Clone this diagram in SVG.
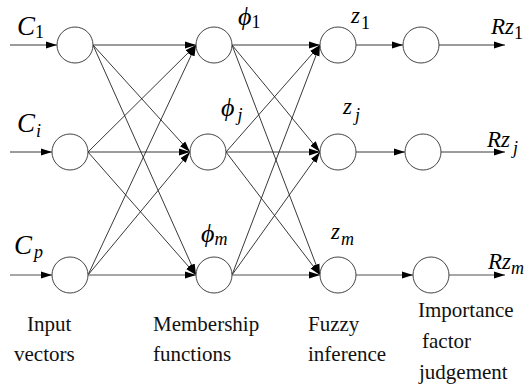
<svg xmlns="http://www.w3.org/2000/svg" width="532" height="392" viewBox="0 0 532 392">
<defs>
<marker id="ah" markerUnits="userSpaceOnUse" markerWidth="12" markerHeight="8" refX="11" refY="4" orient="auto">
<path d="M0,0.5 L11,4 L0,7.5 z" fill="#000"/>
</marker>
<style>
.n{fill:#fff;stroke:#444;stroke-width:1}
.c line{stroke:#222;stroke-width:0.9;fill:none;marker-end:url(#ah)}
.c line.g{stroke:#8a8a8a;stroke-width:1.4}
.lbl{font-style:italic;fill:#000}
.cap{font-size:21px;fill:#111}
</style>
</defs>
<rect width="532" height="392" fill="#fff"/>
<g id="connectors" class="c">
<line x1="10" y1="45" x2="57" y2="45"/>
<line x1="10" y1="152" x2="52" y2="152"/>
<line class="g" x1="10" y1="275" x2="52" y2="275"/>
<line x1="93" y1="45" x2="196" y2="45"/>
<line x1="93" y1="45" x2="190" y2="152"/>
<line x1="93" y1="45" x2="196" y2="275"/>
<line x1="88" y1="152" x2="196" y2="45"/>
<line x1="88" y1="152" x2="190" y2="152"/>
<line x1="88" y1="152" x2="196" y2="275"/>
<line x1="88" y1="275" x2="196" y2="45"/>
<line x1="88" y1="275" x2="190" y2="152"/>
<line class="g" x1="88" y1="275" x2="196" y2="275"/>
<line x1="232" y1="45" x2="320" y2="45"/>
<line x1="232" y1="45" x2="320" y2="152"/>
<line x1="232" y1="45" x2="320" y2="275"/>
<line x1="226" y1="152" x2="320" y2="45"/>
<line x1="226" y1="152" x2="320" y2="152"/>
<line x1="226" y1="152" x2="320" y2="275"/>
<line x1="232" y1="275" x2="320" y2="45"/>
<line x1="232" y1="275" x2="320" y2="152"/>
<line class="g" x1="232" y1="275" x2="320" y2="275"/>
<line x1="356" y1="45" x2="403" y2="45"/>
<line x1="356" y1="152" x2="405" y2="152"/>
<line class="g" x1="356" y1="275" x2="413" y2="275"/>
<line x1="439" y1="45" x2="505" y2="45"/>
<line x1="441" y1="152" x2="505" y2="152"/>
<line class="g" x1="449" y1="275" x2="505" y2="275"/>
</g>
<g id="input1"><circle class="n" cx="75" cy="45" r="18"/></g>
<g id="input2"><circle class="n" cx="70" cy="152" r="18"/></g>
<g id="input3"><circle class="n" cx="70" cy="275" r="18"/></g>
<g id="member1"><circle class="n" cx="214" cy="45" r="18"/></g>
<g id="member2"><circle class="n" cx="208" cy="152" r="18"/></g>
<g id="member3"><circle class="n" cx="214" cy="275" r="18"/></g>
<g id="fuzzy1"><circle class="n" cx="338" cy="45" r="18"/></g>
<g id="fuzzy2"><circle class="n" cx="338" cy="152" r="18"/></g>
<g id="fuzzy3"><circle class="n" cx="338" cy="275" r="18"/></g>
<g id="imp1"><circle class="n" cx="421" cy="45" r="18"/></g>
<g id="imp2"><circle class="n" cx="423" cy="152" r="18"/></g>
<g id="imp3"><circle class="n" cx="431" cy="275" r="18"/></g>
<g id="labels" font-family="'Liberation Serif', 'Times New Roman', serif">
<text class="lbl" x="17" y="35" font-size="27">C<tspan font-style="normal" font-size="18" dy="3">1</tspan></text>
<text class="lbl" x="17" y="132" font-size="27">C<tspan font-size="18" dx="1" dy="5">i</tspan></text>
<text class="lbl" x="14" y="254" font-size="27">C<tspan font-size="18" dx="2" dy="4">p</tspan></text>
<text class="lbl" x="238" y="25" font-size="26">ϕ<tspan font-style="normal" font-size="18" dy="3">1</tspan></text>
<text class="lbl" x="221" y="116" font-size="26">ϕ<tspan font-size="18" dx="3" dy="5">j</tspan></text>
<text class="lbl" x="201" y="242" font-size="26">ϕ<tspan font-size="18" dy="3">m</tspan></text>
<text class="lbl" x="351" y="23" font-size="23">z<tspan font-style="normal" font-size="18" dx="1" dy="6">1</tspan></text>
<text class="lbl" x="343" y="114" font-size="23">z<tspan font-size="18" dx="3" dy="7">j</tspan></text>
<text class="lbl" x="331" y="239" font-size="23">z<tspan font-size="18" dx="1" dy="6">m</tspan></text>
<text class="lbl" x="491" y="34" font-size="23">Rz<tspan font-style="normal" font-size="18" dy="5">1</tspan></text>
<text class="lbl" x="487" y="147" font-size="23">Rz<tspan font-size="18" dx="3" dy="7">j</tspan></text>
<text class="lbl" x="488" y="269" font-size="23">Rz<tspan font-size="18" dy="5">m</tspan></text>
<text class="cap" x="27" y="331">Input</text>
<text class="cap" x="14" y="361">vectors</text>
<text class="cap" x="153" y="331">Membership</text>
<text class="cap" x="153" y="361">functions</text>
<text class="cap" x="308" y="331">Fuzzy</text>
<text class="cap" x="308" y="361">inference</text>
<text class="cap" x="418" y="317">Importance</text>
<text class="cap" x="422" y="348">factor</text>
<text class="cap" x="419" y="379">judgement</text>
</g>
</svg>
